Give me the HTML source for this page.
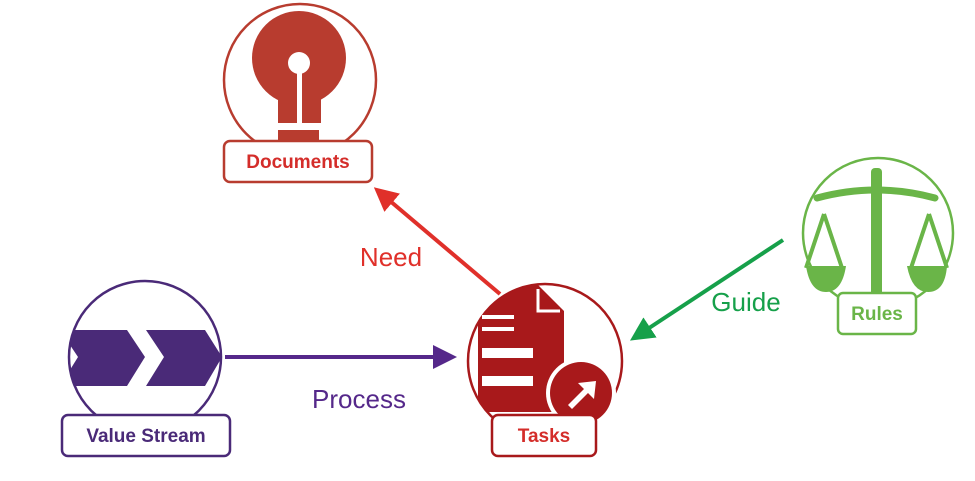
<!DOCTYPE html>
<html><head><style>body{margin:0;background:#fff}svg{display:block}text{font-family:"Liberation Sans",sans-serif}</style></head><body>
<svg width="975" height="481" viewBox="0 0 975 481" xmlns="http://www.w3.org/2000/svg">
<defs>
<marker id="mr" markerWidth="6" markerHeight="6" refX="3" refY="3" orient="auto" markerUnits="strokeWidth"><path d="M0,0 L6,3 L0,6 z" fill="#e0302a"/></marker>
<marker id="mp" markerWidth="6" markerHeight="6" refX="3" refY="3" orient="auto" markerUnits="strokeWidth"><path d="M0,0 L6,3 L0,6 z" fill="#55288a"/></marker>
<marker id="mg" markerWidth="6" markerHeight="6" refX="3" refY="3" orient="auto" markerUnits="strokeWidth"><path d="M0,0 L6,3 L0,6 z" fill="#16a04a"/></marker>
<clipPath id="tc"><circle cx="545" cy="361" r="77"/></clipPath>
<clipPath id="vc"><circle cx="145" cy="357" r="76"/></clipPath>
</defs>
<line x1="500" y1="294" x2="383" y2="195" stroke="#e0302a" stroke-width="4" marker-end="url(#mr)"/>
<line x1="225" y1="357" x2="445" y2="357" stroke="#55288a" stroke-width="4" marker-end="url(#mp)"/>
<line x1="783" y1="240" x2="640" y2="334" stroke="#16a04a" stroke-width="4" marker-end="url(#mg)"/>
<text x="391" y="266" font-size="26" fill="#e0302a" text-anchor="middle">Need</text>
<text x="359" y="408" font-size="26" fill="#55288a" text-anchor="middle">Process</text>
<text x="746" y="311" font-size="26" fill="#16a04a" text-anchor="middle">Guide</text>

<circle cx="300" cy="80" r="76" fill="#fff" stroke="#b83c2f" stroke-width="2.5"/>
<circle cx="299" cy="58" r="47" fill="#b83c2f"/>
<rect x="278" y="90" width="43" height="33" fill="#b83c2f"/>
<rect x="278" y="130" width="41" height="12" fill="#b83c2f"/>
<circle cx="299" cy="63" r="11" fill="#fff"/>
<rect x="297" y="68" width="5" height="60" fill="#fff"/>
<rect x="224" y="141" width="148" height="41" rx="6" fill="#fff" stroke="#b83c2f" stroke-width="2.5"/>
<text x="298" y="168" font-size="19" font-weight="bold" fill="#d42d2a" text-anchor="middle">Documents</text>

<circle cx="545" cy="361" r="77" fill="#fff" stroke="#a8191b" stroke-width="2.5"/>
<g clip-path="url(#tc)">
<path d="M478,283 L536,283 L564,311 L564,412 L478,412 z" fill="#a8191b"/>
</g>
<path d="M538,289 L538,311 L560,311" fill="none" stroke="#fff" stroke-width="3"/>
<rect x="482" y="315" width="32" height="4" fill="#fff"/>
<rect x="482" y="327" width="32" height="4" fill="#fff"/>
<rect x="482" y="348" width="51" height="10" fill="#fff"/>
<rect x="482" y="376" width="51" height="10" fill="#fff"/>
<circle cx="581" cy="393" r="35" fill="#fff"/>
<circle cx="581" cy="393" r="31" fill="#a8191b"/>
<path d="M568,405 L584,389 L578,383 L596,381 L594,399 L588,393 L572,409 z" fill="#fff"/>
<rect x="492" y="415" width="104" height="41" rx="6" fill="#fff" stroke="#a8191b" stroke-width="2.5"/>
<text x="544" y="442" font-size="19" font-weight="bold" fill="#d42d2a" text-anchor="middle">Tasks</text>

<circle cx="878" cy="233" r="75" fill="#fff" stroke="#6ab548" stroke-width="2.5"/>
<path d="M817,198 Q876,182 935,198" fill="none" stroke="#6ab548" stroke-width="7" stroke-linecap="round"/>
<rect x="871" y="168" width="11" height="128" rx="4" fill="#6ab548"/>
<path d="M824,214 L806,268 M824,214 L842,268 M929,214 L911,268 M929,214 L947,268" stroke="#6ab548" stroke-width="4" fill="none"/>
<path d="M806,266 L846,266 Q842,292 826,292 Q810,292 806,266 z" fill="#6ab548"/>
<path d="M907,266 L947,266 Q945,292 928,292 Q912,292 907,266 z" fill="#6ab548"/>
<rect x="838" y="293" width="78" height="41" rx="5" fill="#fff" stroke="#6ab548" stroke-width="2.5"/>
<text x="877" y="320" font-size="19" font-weight="bold" fill="#6ab548" text-anchor="middle">Rules</text>

<circle cx="145" cy="357" r="76" fill="#fff" stroke="#4a2a78" stroke-width="2.5"/>
<g clip-path="url(#vc)" fill="#4a2a78">
<path d="M60,330 L127,330 L145,357 L127,386 L60,386 L78,357 z"/>
<path d="M146,330 L205,330 L222,357 L205,386 L146,386 L164,357 z"/>
</g>
<rect x="62" y="415" width="168" height="41" rx="6" fill="#fff" stroke="#4a2a78" stroke-width="2.5"/>
<text x="146" y="442" font-size="19" font-weight="bold" fill="#4a2a78" text-anchor="middle">Value Stream</text>
</svg>
</body></html>
